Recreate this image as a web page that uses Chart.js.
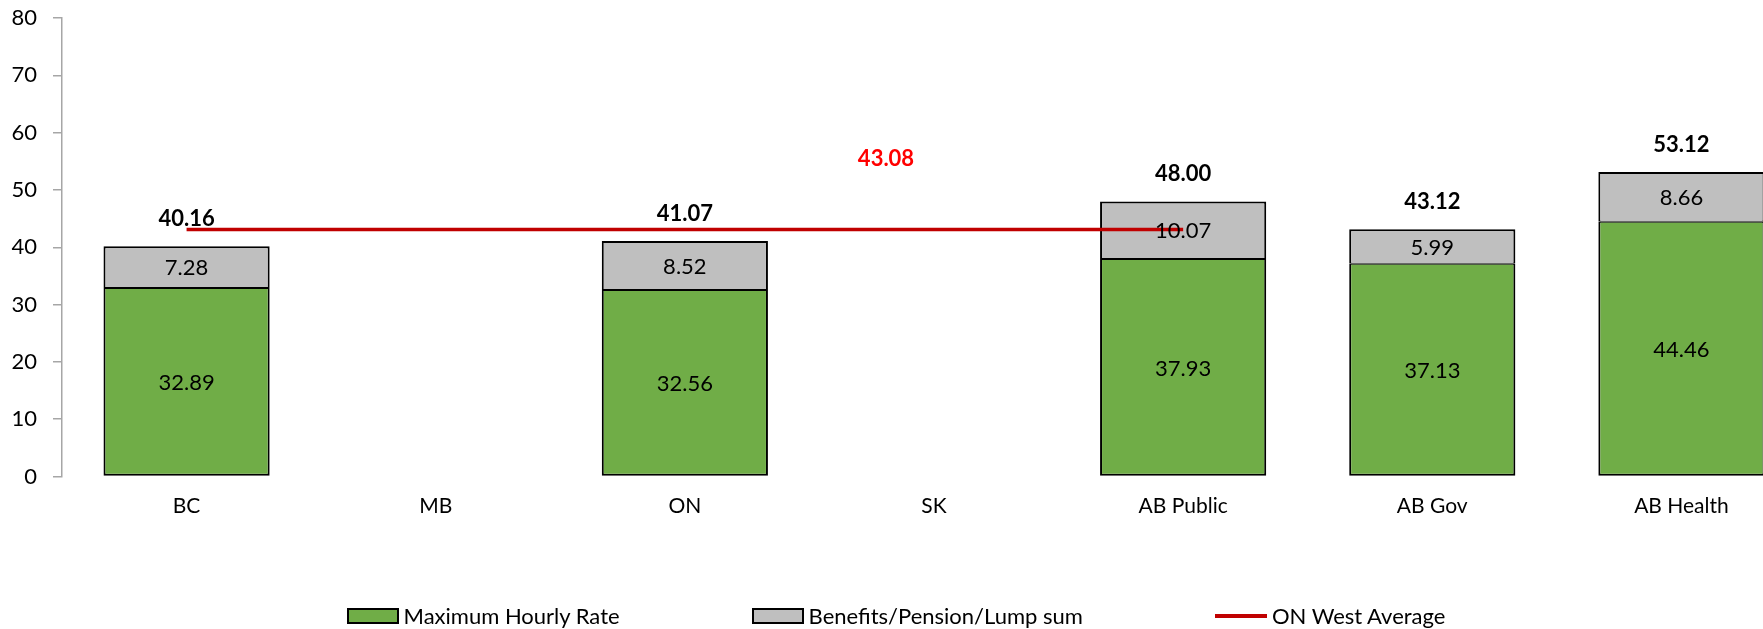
<!DOCTYPE html>
<html>
<head>
<meta charset="utf-8">
<script src="https://cdn.jsdelivr.net/npm/chart.js@4.4.1/dist/chart.umd.min.js"></script>
<style>
    html, body { margin: 0; padding: 0; background: #fff; overflow: hidden; }
    #wrap { position: relative; width: 1806px; height: 629px; }
    #legend {
        position: absolute; left: 0; top: 602px; width: 1792px;
        display: flex; justify-content: center; gap: 132px;
        font-family: Lato, sans-serif; font-size: 22px; color: #000;
    }
    #legend .item { display: flex; align-items: center; gap: 5px; }
    #legend .swatch { width: 48px; height: 12px; border: 2px solid #000; }
    #legend .line { width: 52px; height: 4px; margin: 6px 0; }
</style>
</head>
<body>
<div id="wrap">
    <canvas id="rateChart"></canvas>
    <div id="legend"></div>
</div>
<script>
    'use strict';

    // ---- data ----
    const categories = ['BC', 'MB', 'ON', 'SK', 'AB Public', 'AB Gov', 'AB Health'];
    const hourlyRate = [32.89, null, 32.56, null, 37.93, 37.13, 44.46];
    const benefits = [7.28, null, 8.52, null, 10.07, 5.99, 8.66];
    const totals = [40.16, null, 41.07, null, 48.00, 43.12, 53.12];
    const westAverage = [43.08, 43.08, 43.08, 43.08, 43.08, null, null];
    const yTicks = { min: 0, max: 80, step: 10 };

    const FONT = 'Lato, sans-serif';

    // draws value labels inside bars, totals above bars and the average label
    const labelPlugin = {
        id: 'valueLabels',
        afterDatasetsDraw: function(chart) {
            const ctx = chart.ctx;
            ctx.save();
            ctx.textAlign = 'center';
            ctx.textBaseline = 'middle';

            [0, 1].forEach(function(di) {
                const meta = chart.getDatasetMeta(di);
                const values = chart.data.datasets[di].data;
                ctx.font = '22px ' + FONT;
                ctx.fillStyle = '#000';
                meta.data.forEach(function(bar, i) {
                    if (values[i] == null) return;
                    const mid = (bar.y + bar.base) / 2;
                    ctx.fillText(values[i].toFixed(2), bar.x, mid + 1);
                });
            });

            // totals on top of the stack
            const topMeta = chart.getDatasetMeta(1);
            ctx.font = 'bold 22px ' + FONT;
            topMeta.data.forEach(function(bar, i) {
                if (totals[i] == null) return;
                ctx.fillText(totals[i].toFixed(2), bar.x, bar.y - 27);
            });

            // average label
            const lineMeta = chart.getDatasetMeta(2);
            const pt = lineMeta.data[3];
            ctx.fillStyle = '#FF0000';
            ctx.fillText(westAverage[3].toFixed(2), pt.x - 48, pt.y - 71);
            ctx.restore();
        }
    };

    const chart = new Chart(document.getElementById('rateChart').getContext('2d'), {
        type: 'bar',
        data: {
            labels: categories,
            datasets: [{
                label: 'Maximum Hourly Rate',
                data: hourlyRate,
                backgroundColor: '#70AD47',
                borderColor: '#000',
                borderWidth: { top: 1, left: 2, right: 2, bottom: 2 },
                borderSkipped: false,
                stack: 'pay',
                barPercentage: 0.667,
                categoryPercentage: 1,
                order: 2
            }, {
                label: 'Benefits/Pension/Lump sum',
                data: benefits,
                backgroundColor: '#BFBFBF',
                borderColor: '#000',
                borderWidth: { top: 2, left: 2, right: 2, bottom: 1 },
                borderSkipped: false,
                stack: 'pay',
                barPercentage: 0.667,
                categoryPercentage: 1,
                order: 2
            }, {
                type: 'line',
                label: 'ON West Average',
                data: westAverage,
                borderColor: '#C00000',
                backgroundColor: '#C00000',
                borderWidth: 3.5,
                pointRadius: 0,
                stack: 'avg',
                spanGaps: false,
                order: 1
            }]
        },
        options: {
            responsive: true,
            maintainAspectRatio: false,
            animation: false,
            layout: { padding: { top: 18, bottom: 108.5, left: 0, right: 0 } },
            plugins: {
                legend: { display: false },
                tooltip: { enabled: false }
            },
            scales: {
                x: {
                    stacked: true,
                    grid: { display: false, drawTicks: false },
                    border: { display: false },
                    ticks: { color: '#000', font: { family: FONT, size: 21 }, padding: 17 },
                    afterFit: function(scale) { scale.height = 44; }
                },
                y: {
                    stacked: true,
                    min: yTicks.min,
                    max: yTicks.max,
                    grid: { drawOnChartArea: false, drawTicks: true, tickLength: 9, color: '#A6A6A6', lineWidth: 1.5 },
                    border: { color: '#A6A6A6', width: 1.5 },
                    ticks: { stepSize: yTicks.step, color: '#000', font: { family: FONT, size: 22 }, padding: 16 },
                    afterFit: function(scale) {
                        scale.width = 62;
                        scale.paddingTop = 0;
                    }
                }
            }
        },
        plugins: [labelPlugin]
    });

    // HTML legend built from the datasets
    const legendEl = document.getElementById('legend');
    chart.data.datasets.forEach(function(ds) {
        const item = document.createElement('div');
        item.className = 'item';
        const mark = document.createElement('div');
        if (ds.type === 'line') {
            mark.className = 'line';
            mark.style.background = ds.borderColor;
        } else {
            mark.className = 'swatch';
            mark.style.background = ds.backgroundColor;
        }
        const text = document.createElement('span');
        text.textContent = ds.label;
        item.appendChild(mark);
        item.appendChild(text);
        legendEl.appendChild(item);
    });
</script>
</body>
</html>
